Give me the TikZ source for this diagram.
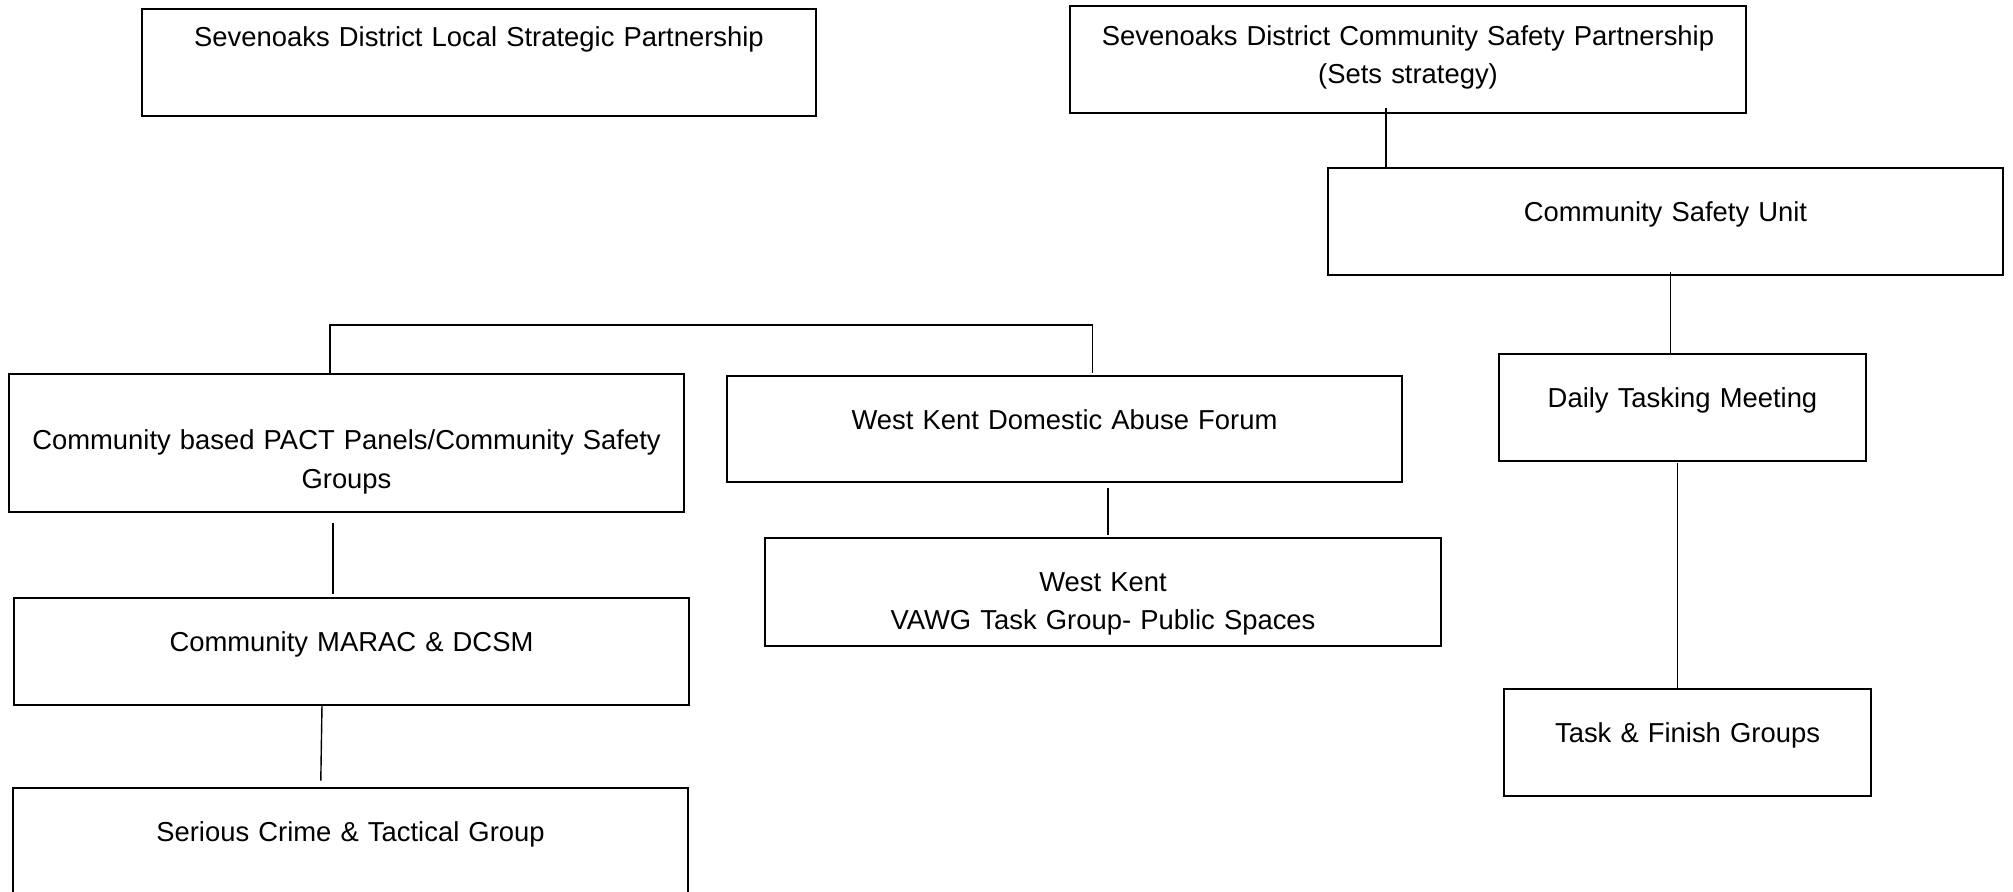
\documentclass[tikz,border=0pt]{standalone}
\usepackage{fontspec}
\setmainfont{Liberation Sans}
\begin{document}
\begin{tikzpicture}[x=0.5pt,y=-0.5pt,
  box/.style={draw, line width=0.8pt, inner sep=0pt, outer sep=0pt, anchor=north west},
  lbl/.style={font=\fontsize{13.7}{19.25}\selectfont, inner sep=0pt, anchor=base, text width=330pt, align=center},
  conn/.style={draw, line width=0.7pt}]
\clip (0,0) rectangle (2013,892);
\fill[white] (0,0) rectangle (2013,892);
% boxes
\node[box, minimum width=337pt, minimum height=53.5pt,
  label={[lbl, yshift=-18.7pt]north:Sevenoaks District Local Strategic Partnership}] (lsp) at (142,9) {};
\node[box, minimum width=338pt, minimum height=53.5pt,
  label={[lbl, yshift=-19.65pt]north:Sevenoaks District Community Safety Partnership\\(Sets strategy)}] (csp) at (1070,6) {};
\node[box, minimum width=337.5pt, minimum height=53.5pt,
  label={[lbl, yshift=-27pt]north:Community Safety Unit}] (csu) at (1328,168) {};
\node[box, minimum width=337.5pt, minimum height=69pt,
  label={[lbl, yshift=-38pt]north:Community based PACT Panels/Community Safety\\Groups}] (pact) at (9,374) {};
\node[box, minimum width=337.5pt, minimum height=53pt,
  label={[lbl, yshift=-27pt]north:West Kent Domestic Abuse Forum}] (wkdaf) at (727,376) {};
\node[box, minimum width=183.5pt, minimum height=53.5pt,
  label={[lbl, text width=180pt, yshift=-27pt]north:Daily Tasking Meeting}] (dtm) at (1499,354) {};
\node[box, minimum width=337.5pt, minimum height=53.5pt,
  label={[lbl, yshift=-26.75pt]north:Community MARAC \& DCSM}] (marac) at (14,598) {};
\node[box, minimum width=338pt, minimum height=54pt,
  label={[lbl, yshift=-26.75pt]north:West Kent\\VAWG Task Group- Public Spaces}] (vawg) at (765,538) {};
\node[box, minimum width=337.5pt, minimum height=60pt,
  label={[lbl, yshift=-26.5pt]north:Serious Crime \& Tactical Group}] (sctg) at (13,788) {};
\node[box, minimum width=183.5pt, minimum height=53.5pt,
  label={[lbl, text width=180pt, yshift=-26.5pt]north:Task \& Finish Groups}] (tfg) at (1504,689) {};
% connectors
\draw[conn] ([xshift=158pt,yshift=2.5pt]csp.south west) -- ([xshift=29pt]csu.north west);
\draw[conn] ([xshift=171.25pt,yshift=1.5pt]csu.south west) -- ([xshift=85.75pt]dtm.north west);
\draw[conn] ([xshift=160.5pt]pact.north west) -- ++(0,-49) -| ([xshift=182.7pt,yshift=1.65pt]wkdaf.north west);
\draw[conn] ([xshift=162pt,yshift=-5.35pt]pact.south west) -- ([xshift=159.5pt,yshift=1.85pt]marac.north west);
\draw[conn] ([xshift=154pt]marac.south west) -- ([xshift=153.9pt,yshift=3.65pt]sctg.north west);
\draw[conn] ([xshift=190.45pt,yshift=-2.85pt]wkdaf.south west) -- ([xshift=171.45pt,yshift=1.5pt]vawg.north west);
\draw[conn] ([xshift=89.3pt,yshift=-0.85pt]dtm.south west) -- ([xshift=86.8pt,yshift=0.35pt]tfg.north west);
\end{tikzpicture}
\end{document}
